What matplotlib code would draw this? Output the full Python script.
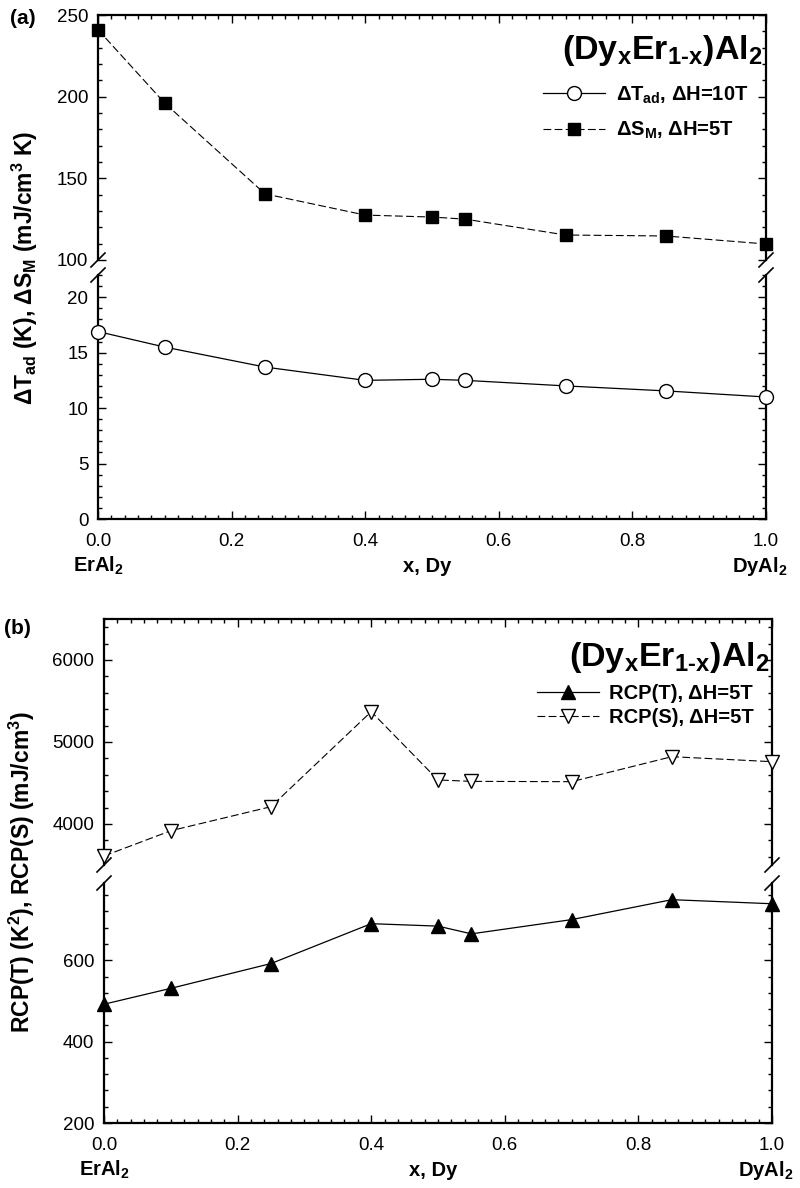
import numpy as np
import matplotlib.pyplot as plt
from matplotlib.ticker import MultipleLocator, FormatStrFormatter
from matplotlib.lines import Line2D

plt.rcParams['font.family'] = ['Liberation Sans', 'DejaVu Sans']
plt.rcParams['mathtext.fontset'] = 'custom'
plt.rcParams['mathtext.rm'] = 'Liberation Sans'
plt.rcParams['mathtext.bf'] = 'Liberation Sans:bold'
plt.rcParams['mathtext.it'] = 'Liberation Sans:italic'

# Dy content x in (Dy_x Er_1-x)Al2
x_dy = [0.0, 0.1, 0.25, 0.4, 0.5, 0.55, 0.7, 0.85, 1.0]
dT_ad = [16.9, 15.5, 13.7, 12.5, 12.6, 12.5, 12.0, 11.55, 11.0]       # K, dH=10T
dS_m = [241, 196, 140.5, 127.5, 126.3, 125, 115.3, 114.7, 109.8]      # mJ/cm3 K, dH=5T
rcp_t = [492, 531, 592, 690, 684, 665, 700, 749, 739]                 # K^2
rcp_s = [3610, 3918, 4211, 5370, 4537, 4520, 4516, 4821, 4760]        # mJ/cm3

W, H = 800, 1188
fig = plt.figure(figsize=(W / 100, H / 100), dpi=100)


def box(l, r, t, b):
    # pixel box -> figure fraction
    return [l / W, 1 - b / H, (r - l) / W, (b - t) / H]


def sub(s):
    return r'$_{\mathbf{' + s + '}}$'


def sup(s):
    return r'$^{\mathbf{' + s + '}}$'


ax_a1 = fig.add_axes(box(98, 766, 15, 260))
ax_a2 = fig.add_axes(box(98, 766, 275, 519))
ax_b1 = fig.add_axes(box(104, 772, 619, 865))
ax_b2 = fig.add_axes(box(104, 772, 883, 1123))


def style(ax, upper):
    ax.set_xlim(0, 1)
    ax.xaxis.set_major_locator(MultipleLocator(0.2))
    ax.xaxis.set_minor_locator(MultipleLocator(0.02))
    ax.xaxis.set_major_formatter(FormatStrFormatter('%.1f'))
    ax.yaxis.set_major_formatter(FormatStrFormatter('%d'))
    for s in ax.spines.values():
        s.set_linewidth(1.6)
    ax.tick_params(which='both', direction='in', left=True, right=True, width=1)
    ax.tick_params(which='major', length=6, labelsize=13.5)
    ax.tick_params(which='minor', length=3)
    ax.tick_params(axis='y', pad=7)
    ax.tick_params(axis='x', pad=10)
    if upper:
        ax.spines['bottom'].set_visible(False)
        ax.tick_params(which='both', bottom=False, top=True, labelbottom=False)
    else:
        ax.spines['top'].set_visible(False)
        ax.tick_params(which='both', top=False, bottom=True)


for ax, up in [(ax_a1, True), (ax_a2, False), (ax_b1, True), (ax_b2, False)]:
    style(ax, up)

# panel (a)
ln_s, = ax_a1.plot(x_dy, dS_m, color='k', lw=0.8, dashes=(7, 3), marker='s',
                   ms=8, mfc='k', mec='k', clip_on=False, zorder=5)
ln_t, = ax_a2.plot(x_dy, dT_ad, color='k', lw=0.9, marker='o', ms=10,
                   mfc='white', mec='k', mew=1, clip_on=False, zorder=5)
ax_a1.set_ylim(100, 250)
ax_a1.yaxis.set_major_locator(MultipleLocator(50))
ax_a1.yaxis.set_minor_locator(MultipleLocator(10))
ax_a2.set_ylim(0, 22)
ax_a2.yaxis.set_major_locator(MultipleLocator(5))
ax_a2.yaxis.set_minor_locator(MultipleLocator(1))

# panel (b)
ln_rs, = ax_b1.plot(x_dy, rcp_s, color='k', lw=0.8, dashes=(7, 3), marker='v',
                    ms=10, mfc='white', mec='k', mew=1, clip_on=False, zorder=5)
ln_rt, = ax_b2.plot(x_dy, rcp_t, color='k', lw=0.9, marker='^', ms=10,
                    mfc='k', mec='k', clip_on=False, zorder=5)
ax_b1.set_ylim(3500, 6500)
ax_b1.set_yticks([4000, 5000, 6000])
ax_b1.yaxis.set_minor_locator(MultipleLocator(200))
ax_b2.set_ylim(200, 790)
ax_b2.set_yticks([200, 400, 600])
ax_b2.yaxis.set_minor_locator(MultipleLocator(40))

title = '(Dy' + sub('x') + 'Er' + sub('1\u2010x') + ')Al' + sub('2')
ax_a1.text(0.995, 0.855, title, transform=ax_a1.transAxes, ha='right',
           va='center', fontsize=24.5, fontweight='bold')
ax_b1.text(0.997, 0.845, title, transform=ax_b1.transAxes, ha='right',
           va='center', fontsize=24.5, fontweight='bold')

leg_kw = dict(loc='upper right', frameon=False, handlelength=3.1,
              handletextpad=0.5, borderaxespad=0,
              prop={'size': 14.5, 'weight': 'bold'})
ax_a1.legend([ln_t, ln_s],
             ['ΔT' + sub('ad') + ', ΔH=10T', 'ΔS' + sub('M') + ', ΔH=5T'],
             bbox_to_anchor=(0.985, 0.75), labelspacing=0.7, **leg_kw)
ax_b1.legend([ln_rt, ln_rs],
             ['RCP(T), ΔH=5T', 'RCP(S), ΔH=5T'],
             bbox_to_anchor=(0.985, 0.77), labelspacing=0.25, **leg_kw)

# composition labels under the x axes
for ax in (ax_a2, ax_b2):
    tr = ax.get_xaxis_transform()
    kw = dict(xycoords=tr, textcoords='offset points', ha='center',
              va='baseline', fontsize=14.5, fontweight='bold')
    ax.annotate('ErAl' + sub('2'), xy=(0, 0), xytext=(0, -38), **kw)
    ax.annotate('x, Dy', xy=(0.493, 0), xytext=(0, -38), **kw)
    ax.annotate('DyAl' + sub('2'), xy=(0.99, 0), xytext=(0, -38), **kw)

fig.text(25 / W, 1 - 268 / H,
         'ΔT' + sub('ad') + ' (K), ΔS' + sub('M') + ' (mJ/cm' + sup('3') + ' K)',
         rotation=90, ha='center', va='center', fontsize=16.5, fontweight='bold')
fig.text(22 / W, 1 - 872 / H,
         'RCP(T) (K' + sup('2') + '), RCP(S) (mJ/cm' + sup('3') + ')',
         rotation=90, ha='center', va='center', fontsize=16.5, fontweight='bold')

fig.text(10 / W, 1 - 19 / H, '(a)', ha='left', va='center', fontsize=15,
         fontweight='bold')
fig.text(4 / W, 1 - 629 / H, '(b)', ha='left', va='center', fontsize=15,
         fontweight='bold')

# axis break marks on both spines
for xs, ys in [((98, 766), (260, 275)), ((104, 772), (865, 883))]:
    for cx in xs:
        for cy in ys:
            fig.add_artist(Line2D([(cx - 7) / W, (cx + 7) / W],
                                  [1 - (cy + 7) / H, 1 - (cy - 7) / H],
                                  transform=fig.transFigure, color='k', lw=1.2))

fig.savefig('out.png', dpi=100)
